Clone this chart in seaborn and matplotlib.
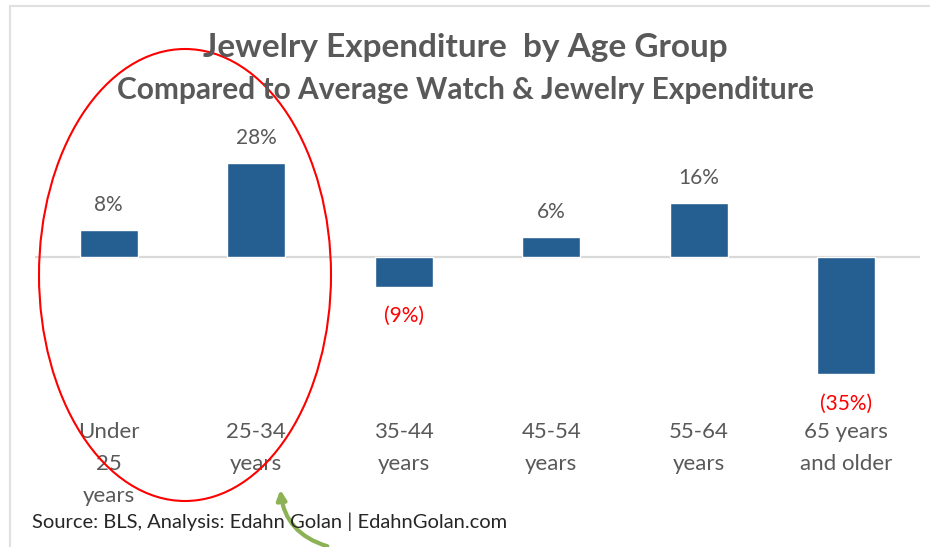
import numpy as np
import pandas as pd
import matplotlib
matplotlib.use("Agg")
import matplotlib.pyplot as plt
from matplotlib.patches import Ellipse, FancyArrowPatch, Rectangle
import seaborn as sns

# data
age_groups = ["Under\n25\nyears", "25-34\nyears", "35-44\nyears", "45-54\nyears", "55-64\nyears", "65 years\nand older"]
pct_vs_avg = [8, 28, -9, 6, 16, -35]

sns.set_theme(style="white")
plt.rcParams['font.family'] = ['Lato', 'DejaVu Sans']

df = pd.DataFrame({"age": age_groups, "pct": pct_vs_avg})

W, H = 930, 547
fig = plt.figure(figsize=(W / 100, H / 100), dpi=100)
ax = fig.add_axes([35 / W, 1 - 400 / H, 885 / W, 280 / H])

sns.barplot(data=df, x="age", y="pct", color="#255E91", width=0.39, saturation=1, ax=ax)
ax.set_ylim(-42.7, 40.9)
ax.set_xlim(-0.5, 5.5)
ax.axhline(0, color="#d9d9d9", lw=1.6, zorder=0)
sns.despine(ax=ax, left=True, bottom=True)
ax.set_yticks([])
ax.set_xlabel("")
ax.set_ylabel("")
ax.tick_params(axis="x", length=0, pad=16, labelsize=16, labelcolor="#595959")
for lab in ax.get_xticklabels():
    lab.set_linespacing(1.75)

# value labels
for i, v in enumerate(pct_vs_avg):
    if v >= 0:
        txt, col, off = f"{v}%", "#595959", 18
    else:
        txt, col, off = f"({abs(v)}%)", "#FF0000", -21
    ax.annotate(txt, (i, v), xytext=(0, off), textcoords="offset points",
                ha="center", va="center", fontsize=15, color=col)

fig.text(0.5, 1 - 47 / H, "Jewelry Expenditure  by Age Group", ha="center", va="center",
         fontsize=24, fontweight="bold", color="#595959")
fig.text(0.5, 1 - 90 / H, "Compared to Average Watch & Jewelry Expenditure", ha="center", va="center",
         fontsize=21.5, fontweight="bold", color="#595959")
fig.text(32 / W, 1 - 522 / H, "Source: BLS, Analysis: Edahn Golan | EdahnGolan.com", ha="left", va="center",
         fontsize=14.5, color="#262626")

# chart frame
fig.add_artist(Rectangle((10 / W, -0.05), 1.0, 1.05 - 6 / H, transform=fig.transFigure,
                         fill=False, edgecolor="#e0e0e0", lw=1.5))

# red ellipse highlight
fig.add_artist(Ellipse((185 / W, 1 - 275 / H), 292 / W, 452 / H, transform=fig.transFigure,
                       fill=False, edgecolor="#FF0000", lw=1.5))

# green arrow
fig.add_artist(FancyArrowPatch((330 / W, 1 - 547 / H), (280 / W, 1 - 487 / H), transform=fig.transFigure,
                               connectionstyle="arc3,rad=-0.35", arrowstyle="-|>", mutation_scale=14,
                               color="#8DB255", lw=3))

fig.savefig("out.png", dpi=100)
